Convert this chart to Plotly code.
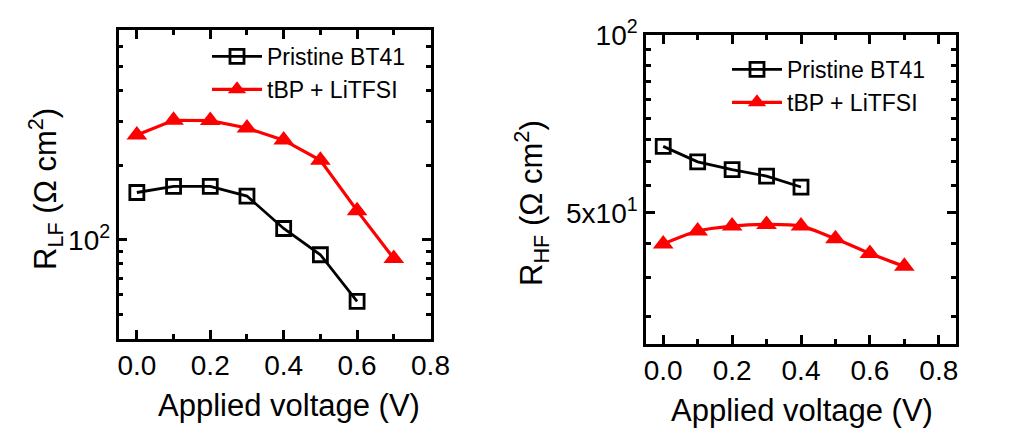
import math
import plotly.graph_objects as go

# ---------------- data ----------------
voltage = [0.0, 0.1, 0.2, 0.3, 0.4, 0.5, 0.6, 0.7]

# Left panel: R_LF (Ohm cm^2)
lf_pristine_v = [0.0, 0.1, 0.2, 0.3, 0.4, 0.5, 0.6]
lf_pristine = [155, 164, 164, 150, 111, 87, 56.5]
lf_tbp_v = voltage
lf_tbp = [264, 303, 302, 282, 252, 209, 131, 84]

# Right panel: R_HF (Ohm cm^2)
hf_pristine_v = [0.0, 0.1, 0.2, 0.3, 0.4]
hf_pristine = [64.8, 61.0, 59.2, 57.7, 55.3]
hf_tbp_v = voltage
hf_tbp = [44.3, 46.6, 47.5, 47.8, 47.5, 45.2, 42.7, 40.6]

series_names = ["Pristine BT41", "tBP + LiTFSI"]

# ticks
x_major = [0.0, 0.2, 0.4, 0.6, 0.8]
x_major_text = ["0.0", "0.2", "0.4", "0.6", "0.8"]
x_minor = [0.1, 0.3, 0.5, 0.7]

lf_major = [100]
lf_major_text = ["10<sup>2</sup>"]
lf_minor = [50, 60, 70, 80, 90, 200, 300, 400, 500, 600]

hf_major = [50, 100]
hf_major_text = ["5x10<sup>1</sup>", "10<sup>2</sup>"]
hf_minor = [94.44, 88.89, 83.33, 77.78, 72.22, 66.67, 61.11, 55.56, 44.44, 38.89, 33.33]

FONT = "Arial, Liberation Sans, sans-serif"
RED = "#ff0000"

fig = go.Figure()

def add_series(xs, ys, name, axis_x, axis_y, legend, kind, spline=False):
    if kind == "sq":
        marker = dict(symbol="square-open", size=14, color="black",
                      line=dict(width=2.8, color="black"))
        line = dict(color="black", width=2.8)
    else:
        marker = dict(symbol="triangle-up", size=18, color=RED,
                      line=dict(width=0, color=RED))
        line = dict(color=RED, width=3.2)
    if spline:
        line["shape"] = "spline"
        line["smoothing"] = 0.8
    fig.add_trace(go.Scatter(x=xs, y=ys, name=name, mode="lines+markers",
                             marker=marker, line=line,
                             xaxis=axis_x, yaxis=axis_y, legend=legend))

add_series(lf_pristine_v, lf_pristine, series_names[0], "x", "y", "legend", "sq")
add_series(lf_tbp_v, lf_tbp, series_names[1], "x", "y", "legend", "tri")
add_series(hf_pristine_v, hf_pristine, series_names[0], "x2", "y2", "legend2", "sq")
add_series(hf_tbp_v, hf_tbp, series_names[1], "x2", "y2", "legend2", "tri", spline=True)

W, H = 1015, 444
L_dom_x = [118.5 / W, 430.5 / W]
L_dom_y = [(H - 338.5) / H, (H - 30) / H]
R_dom_x = [646 / W, 956 / W]
R_dom_y = [(H - 344) / H, (H - 35) / H]

tickfont = dict(family=FONT, size=28, color="black")

def xaxis_cfg(domain, rng, anchor):
    return dict(domain=domain, range=rng, anchor=anchor, automargin=False,
                showgrid=False, zeroline=False,
                showline=True, linecolor="black", linewidth=2.5, mirror="allticks",
                ticks="inside", ticklen=9, tickwidth=2.5, tickcolor="black",
                tickmode="array", tickvals=x_major, ticktext=x_major_text,
                tickfont=tickfont,
                minor=dict(tickmode="array", tickvals=x_minor, ticks="inside",
                           ticklen=5, tickwidth=2.5, tickcolor="black", showgrid=False))

def yaxis_cfg(domain, rng, anchor, major, major_text, minor):
    return dict(domain=domain, range=rng, anchor=anchor, type="log", automargin=False,
                showgrid=False, zeroline=False, showline=True, linecolor="black",
                linewidth=2.5, mirror="allticks", ticks="inside", ticklen=9,
                tickwidth=2.5, tickcolor="black", tickmode="array", tickvals=major,
                ticktext=major_text, tickfont=tickfont,
                minor=dict(tickmode="array", tickvals=minor, ticks="inside",
                           ticklen=5, tickwidth=2.5, tickcolor="black", showgrid=False))

fig.update_layout(
    template="none",
    width=W, height=H,
    margin=dict(l=0, r=0, t=0, b=0, autoexpand=False),
    paper_bgcolor="white", plot_bgcolor="white",
    font=dict(family=FONT, color="black"),
    xaxis=xaxis_cfg(L_dom_x, [-0.05, 0.80], "y"),
    yaxis=yaxis_cfg(L_dom_y, [math.log10(40), math.log10(700)], "x",
                    lf_major, lf_major_text, lf_minor),
    xaxis2=xaxis_cfg(R_dom_x, [-0.05, 0.85], "y2"),
    yaxis2=yaxis_cfg(R_dom_y, [math.log10(30), 2.0], "x2",
                     hf_major, hf_major_text, hf_minor),
    legend=dict(x=207 / W, y=(H - 35) / H, xanchor="left", yanchor="top",
                bgcolor="rgba(0,0,0,0)", borderwidth=0, font=dict(family=FONT, size=23),
                itemwidth=50, tracegroupgap=0),
    legend2=dict(x=727 / W, y=(H - 48) / H, xanchor="left", yanchor="top",
                 bgcolor="rgba(0,0,0,0)", borderwidth=0, font=dict(family=FONT, size=23),
                 itemwidth=50, tracegroupgap=0),
    showlegend=True,
)

title_font = dict(family=FONT, size=31, color="black")
annotations = [
    dict(text="Applied voltage (V)", x=289 / W, y=(H - 405) / H),
    dict(text="Applied voltage (V)", x=802 / W, y=(H - 410) / H),
    dict(text="R<sub>LF</sub> (Ω cm<sup>2</sup>)", x=45 / W, y=(H - 189) / H, textangle=-90),
    dict(text="R<sub>HF</sub> (Ω cm<sup>2</sup>)", x=531 / W, y=(H - 203) / H, textangle=-90),
]
for a in annotations:
    fig.add_annotation(xref="paper", yref="paper", showarrow=False,
                       xanchor="center", yanchor="middle", font=title_font, **a)

fig.write_html(
    "out.html",
    config={"displayModeBar": False},
    post_script="document.body.style.margin='0';document.body.style.padding='0';",
)
